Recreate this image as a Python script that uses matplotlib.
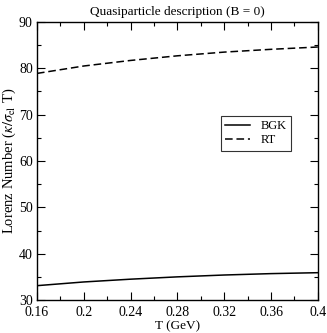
import matplotlib
matplotlib.use('Agg')
import matplotlib.pyplot as plt
from matplotlib.ticker import MultipleLocator, FormatStrFormatter

# data ----
temp = [0.16, 0.20, 0.24, 0.28, 0.32, 0.36, 0.40]
lorenz_bgk = [33.1, 33.9, 34.5, 35.0, 35.4, 35.7, 35.9]
lorenz_rt = [78.9, 80.5, 81.7, 82.7, 83.5, 84.1, 84.6]

plt.rcParams['font.family'] = ['Liberation Serif', 'DejaVu Serif']
plt.rcParams['mathtext.fontset'] = 'stix'
plt.rcParams['font.size'] = 10

fig = plt.figure(figsize=(3.27, 3.33), dpi=100)
ax = fig.add_axes([0.113, 0.099, 0.859, 0.835])

ax.plot(temp, lorenz_bgk, color='black', lw=1.1, ls='-', label='BGK')
ax.plot(temp, lorenz_rt, color='black', lw=1.1, ls=(0, (5, 2.5)), label='RT')

ax.set_xlim(0.16, 0.4)
ax.set_ylim(30, 90)
ax.xaxis.set_major_locator(MultipleLocator(0.04))
ax.xaxis.set_minor_locator(MultipleLocator(0.02))
ax.yaxis.set_major_locator(MultipleLocator(10))
ax.yaxis.set_minor_locator(MultipleLocator(5))
ax.xaxis.set_major_formatter(FormatStrFormatter('%g'))
ax.tick_params(which='both', direction='in', top=True, right=True, width=0.8)
ax.tick_params(which='major', length=6)
ax.tick_params(axis='x', which='major', pad=4)
ax.tick_params(axis='y', which='major', pad=3)
ax.tick_params(which='minor', length=3)
for s in ax.spines.values():
    s.set_linewidth(1.0)

ax.set_xlabel('T (GeV)', fontsize=9.5, labelpad=1)
ax.set_ylabel(r'Lorenz Number ($\kappa/\sigma_{\mathrm{el}}$ T)', fontsize=10.5, labelpad=0.5)
ax.set_title('Quasiparticle description (B = 0)', fontsize=9.5, pad=5)

leg = ax.legend(loc='center', bbox_to_anchor=(0.78, 0.6), frameon=True,
                fancybox=False, edgecolor='black', fontsize=9, handlelength=2.0,
                borderpad=0.35, labelspacing=0.15, handletextpad=0.8)
leg.get_frame().set_linewidth(0.8)

fig.savefig('out.png', dpi=100)
